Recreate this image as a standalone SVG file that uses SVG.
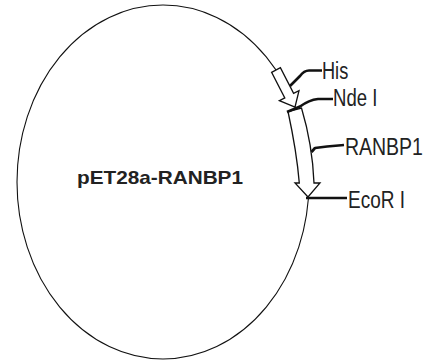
<svg xmlns="http://www.w3.org/2000/svg" width="427" height="360" viewBox="0 0 427 360">
<style>
.bb{fill:none;stroke:#111;stroke-width:1.1}
.feat{fill:#fff;stroke:#111;stroke-width:1.3;stroke-linejoin:miter}
.lead{fill:none;stroke:#111;stroke-width:2.7;stroke-linecap:butt;stroke-linejoin:round}
.lbl{font-family:"Liberation Sans",Arial,sans-serif;font-size:23px;fill:#222}
.title{font-family:"Liberation Sans",Arial,sans-serif;font-size:19px;font-weight:bold;fill:#222}
</style>
<rect width="427" height="360" fill="#fff"/>
<g id="plasmid">
<ellipse class="bb" cx="163" cy="182" rx="146" ry="177"/>
<text class="title" x="77" y="184" textLength="166" lengthAdjust="spacingAndGlyphs">pET28a-RANBP1</text>
</g>
<g id="his-tag">
<path class="feat" d="M271.6,72.3 L280.4,67.7 L293.6,93.3 L299,90.6 L295,107 L279.4,100.6 L284.8,97.9 Z"/>
</g>
<g id="ranbp1-gene">
<path class="feat" d="M288,111.5 C292,130 297,155 299.3,183 L295,183 L308,197 L320,183 L314,183 C313,158 309,133 301.5,108 Z"/>
</g>
<g id="connectors">
<path class="lead" d="M290,86 L300,76 Q304,70.5 309,70.5 L322,70.5"/>
<path class="lead" d="M287,112 L300,106.5 Q309,100 318,99 L333,99"/>
<path class="lead" d="M311.5,152 L315,148 L327,146.5 L344,145"/>
<path class="lead" d="M306,198 L347,198"/>
</g>
<g id="labels">
<text class="lbl" transform="translate(322 79) scale(0.82 1)" textLength="32" lengthAdjust="spacingAndGlyphs">His</text>
<text class="lbl" transform="translate(333 106) scale(0.82 1)" textLength="54" lengthAdjust="spacingAndGlyphs">Nde I</text>
<text class="lbl" transform="translate(345 155) scale(0.82 1)" textLength="95" lengthAdjust="spacingAndGlyphs">RANBP1</text>
<text class="lbl" transform="translate(348 208) scale(0.82 1)" textLength="69.5" lengthAdjust="spacingAndGlyphs">EcoR I</text>
</g>
</svg>
